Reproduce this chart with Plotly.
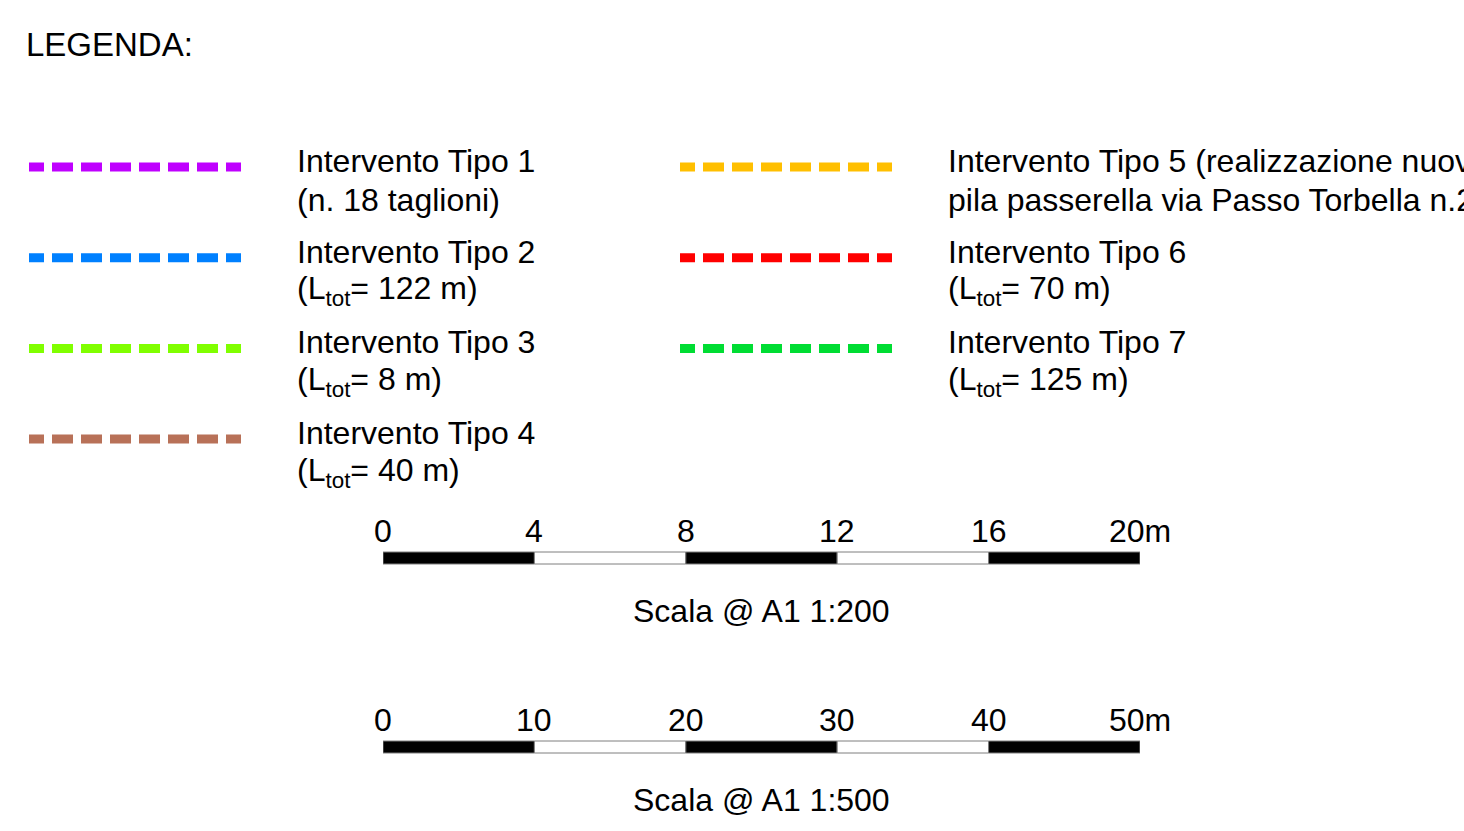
import plotly.graph_objects as go

# ---------------- data ----------------
title_text = "LEGENDA:"

item_line1 = [
    "Intervento Tipo 1",
    "Intervento Tipo 2",
    "Intervento Tipo 3",
    "Intervento Tipo 4",
    "Intervento Tipo 5 (realizzazione nuova",
    "Intervento Tipo 6",
    "Intervento Tipo 7",
]
item_line2 = [
    "(n. 18 taglioni)",
    "(L<sub>tot</sub>= 122 m)",
    "(L<sub>tot</sub>= 8 m)",
    "(L<sub>tot</sub>= 40 m)",
    "pila passerella via Passo Torbella n.2)",
    "(L<sub>tot</sub>= 70 m)",
    "(L<sub>tot</sub>= 125 m)",
]
item_colors = ["#BF00FF", "#0080FF", "#80FF00", "#B87158", "#FFBF00", "#FF0000", "#00DD33"]
item_column = [0, 0, 0, 0, 1, 1, 1]
item_row = [0, 1, 2, 3, 0, 1, 2]

scale1_ticks = [0, 4, 8, 12, 16, 20]
scale1_labels = ["0", "4", "8", "12", "16", "20m"]
scale1_title = "Scala @ A1 1:200"

scale2_ticks = [0, 10, 20, 30, 40, 50]
scale2_labels = ["0", "10", "20", "30", "40", "50m"]
scale2_title = "Scala @ A1 1:500"

# ---------------- layout constants ----------------
W, H = 1464, 831
FONT = "Liberation Sans, Arial, sans-serif"
FS = 32
col_line_x0 = [29, 680]
col_line_x1 = [241, 892]
col_text_x = [295, 946]
row_y0 = 167
row_step = 90.7
dash_pattern = "15px,8px,21px,8px,21px,8px,21px,8px,21px,8px,21px,8px,21px,8px,15px"

fig = go.Figure()
annotations = []

annotations.append(dict(x=24, y=44, xref="x", yref="y", text=title_text, showarrow=False,
                        xanchor="left", yanchor="middle",
                        font=dict(family=FONT, size=33, color="black")))

for l1, l2, c, col, row in zip(item_line1, item_line2, item_colors, item_column, item_row):
    y = row_y0 + row_step * row
    fig.add_trace(go.Scatter(x=[col_line_x0[col], col_line_x1[col]], y=[y, y], mode="lines",
                             line=dict(color=c, width=9, dash=dash_pattern),
                             xaxis="x", yaxis="y", showlegend=False, hoverinfo="skip"))
    annotations.append(dict(x=col_text_x[col], y=y - 6, xref="x", yref="y", text=l1,
                            showarrow=False, xanchor="left", yanchor="middle",
                            font=dict(family=FONT, size=FS, color="black")))
    annotations.append(dict(x=col_text_x[col], y=y + 33, xref="x", yref="y", text=l2,
                            showarrow=False, xanchor="left", yanchor="middle",
                            font=dict(family=FONT, size=FS, color="black")))


def add_scale(ticks, labels, title, xaxis, bar_y):
    starts = ticks[:-1]
    widths = [b - a for a, b in zip(ticks[:-1], ticks[1:])]
    colors = ["black" if i % 2 == 0 else "white" for i in range(len(starts))]
    fig.add_trace(go.Bar(x=widths, base=starts, y=[bar_y] * len(starts), orientation="h",
                         width=12, marker=dict(color=colors, line=dict(color="#7f7f7f", width=1)),
                         xaxis=xaxis, yaxis="y", showlegend=False, hoverinfo="skip"))
    for t, lab in zip(ticks, labels):
        annotations.append(dict(x=t, y=bar_y - 27, xref=xaxis, yref="y", text=lab,
                                showarrow=False, xanchor="center", yanchor="middle",
                                font=dict(family=FONT, size=FS, color="black")))
    annotations.append(dict(x=(ticks[0] + ticks[-1]) / 2, y=bar_y + 53, xref=xaxis, yref="y",
                            text=title, showarrow=False, xanchor="center", yanchor="middle",
                            font=dict(family=FONT, size=FS, color="black")))


add_scale(scale1_ticks, scale1_labels, scale1_title, "x2", 558)
add_scale(scale2_ticks, scale2_labels, scale2_title, "x3", 747)

bar_domain = [383 / W, 1140 / W]
hidden = dict(visible=False, showgrid=False, zeroline=False, fixedrange=True)
fig.update_layout(
    width=W, height=H,
    margin=dict(l=0, r=0, t=0, b=0),
    paper_bgcolor="white", plot_bgcolor="rgba(0,0,0,0)",
    barmode="overlay",
    showlegend=False,
    xaxis=dict(range=[0, W], domain=[0, 1], **hidden),
    xaxis2=dict(range=[scale1_ticks[0], scale1_ticks[-1]], domain=bar_domain, anchor="y", **hidden),
    xaxis3=dict(range=[scale2_ticks[0], scale2_ticks[-1]], domain=bar_domain, anchor="y", **hidden),
    yaxis=dict(range=[H, 0], domain=[0, 1], **hidden),
    annotations=annotations,
)

fig.write_html("out.html", config={"displayModeBar": False},
               post_script="document.body.style.margin='0';document.body.style.overflow='hidden';")
